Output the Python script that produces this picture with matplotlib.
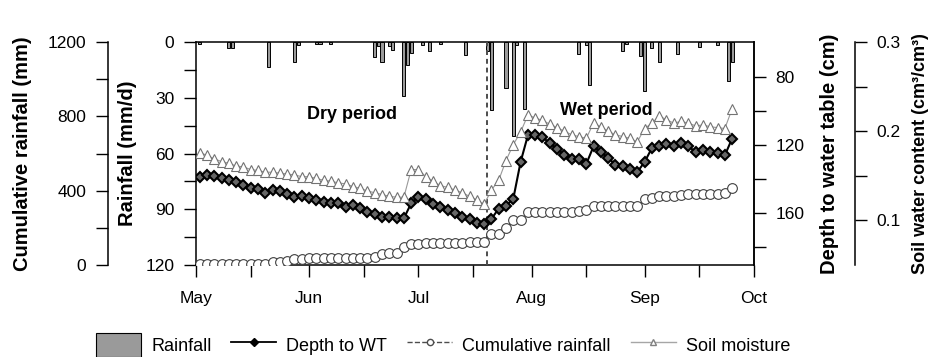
import pandas as pd
import matplotlib
matplotlib.use('Agg')
from matplotlib import pyplot as plt
import matplotlib.dates as mdates
from matplotlib.lines import Line2D
from matplotlib.patches import Patch

plt.rcParams['font.family'] = ['Liberation Sans', 'DejaVu Sans']

# sampling dates, every 2nd day
dates = pd.date_range('2013-05-02', periods=74, freq='2D')

# depth to water table (cm)
depth_wt = [138.6, 137.6, 138.2, 139.6, 140.6, 141.6, 143.5, 145.1, 146.1, 148.4,
            146.5, 146.9, 148.8, 150.8, 149.8, 151.0, 152.4, 153.8, 154.0, 154.3,
            156.3, 155.3, 157.3, 159.2, 160.6, 162.2, 162.5, 163.1, 163.1, 154.3,
            150.4, 152.0, 154.7, 156.3, 158.2, 160.2, 162.2, 163.5, 165.7, 166.7,
            163.5, 157.4, 155.7, 151.6, 130.0, 114.3, 114.3, 115.5, 118.8, 122.4,
            125.7, 128.0, 128.0, 131.2, 120.8, 124.1, 127.6, 131.5, 132.5, 133.9,
            135.9, 130.0, 121.8, 120.8, 119.4, 120.8, 118.8, 120.8, 124.1, 122.8,
            124.1, 124.7, 126.1, 116.2]

# soil water content (cm3/cm3)
soil_moist = [0.176, 0.173, 0.169, 0.166, 0.164, 0.161, 0.160, 0.157, 0.156, 0.154,
              0.154, 0.153, 0.152, 0.151, 0.149, 0.149, 0.147, 0.145, 0.144, 0.142,
              0.141, 0.138, 0.136, 0.133, 0.131, 0.129, 0.127, 0.126, 0.126, 0.157,
              0.157, 0.149, 0.144, 0.139, 0.137, 0.134, 0.131, 0.127, 0.123, 0.118,
              0.134, 0.145, 0.167, 0.185, 0.199, 0.218, 0.215, 0.212, 0.208, 0.204,
              0.200, 0.196, 0.194, 0.192, 0.209, 0.205, 0.200, 0.196, 0.194, 0.192,
              0.188, 0.203, 0.209, 0.217, 0.213, 0.209, 0.211, 0.209, 0.206, 0.207,
              0.205, 0.204, 0.203, 0.225]

# cumulative rainfall (mm)
cum_rain = [3, 3, 3, 3, 3, 3, 3, 3, 3, 4,
            18, 18, 21, 31, 34, 36, 36, 36, 36, 36,
            36, 36, 36, 36, 45, 57, 63, 63, 99, 113,
            113, 117, 117, 120, 120, 120, 120, 124, 124, 126,
            167, 169, 199, 244, 244, 285, 285, 285, 285, 285,
            285, 286, 290, 298, 316, 316, 316, 316, 316, 316,
            316, 355, 360, 369, 369, 369, 378, 382, 382, 382,
            382, 382, 387, 414]

# daily rainfall (mm/d)
rain_dates = ['05-02', '05-10', '05-11', '05-21', '05-28', '05-29', '06-03', '06-04',
              '06-07', '06-19', '06-20', '06-21', '06-23', '06-24', '06-27', '06-28',
              '06-29', '07-02', '07-04', '07-07', '07-14', '07-20', '07-21', '07-25',
              '07-27', '07-28', '07-30', '08-14', '08-16', '08-17', '08-26', '08-27',
              '08-31', '09-01', '09-03', '09-05', '09-10', '09-16', '09-21', '09-24',
              '09-25']
rain_mm = [1, 3, 3, 13.6, 10.9, 1.8, 1, 1, 1, 8.3, 2, 10.9, 2, 4.5, 29.2, 12.6,
           5.9, 1.5, 5, 1, 6.8, 5, 36.4, 25, 50.7, 1.5, 36.2, 6.5, 1.8, 23.2, 5.1, 1,
           7.6, 26.3, 3.3, 11, 6.5, 2.6, 1.7, 20.9, 10.9]

x = mdates.date2num(dates)
xr = mdates.date2num(pd.to_datetime(['2013-' + d for d in rain_dates]))

fig = plt.figure(figsize=(9.3, 3.57), dpi=100)
ax = fig.add_axes([196/930, 92/357, 558/930, 223/357])

# spine offsets are in points: pixels * 72 / 100
PX = 0.72
tick_kw = dict(direction='out', length=8.5, width=1, pad=7, labelsize=12.5, colors='black')

# rainfall bars (main axis)
ax.bar(xr, rain_mm, width=0.85, color='#9a9a9a', edgecolor='black', linewidth=0.7, zorder=2)
ax.set_ylim(120, 0)
ax.set_yticks([0, 30, 60, 90, 120])
ax.set_yticks(range(15, 120, 30), minor=True)
ax.set_xlim(mdates.date2num(pd.Timestamp('2013-05-01')), mdates.date2num(pd.Timestamp('2013-10-01')))
ax.xaxis.set_major_locator(mdates.MonthLocator())
ax.xaxis.set_major_formatter(mdates.DateFormatter('%b'))
ax.xaxis.set_minor_locator(mdates.DayLocator(bymonthday=16))
ax.tick_params(axis='both', which='both', **tick_kw)
ax.tick_params(axis='x', which='major', pad=10.5)
ax.set_ylabel('Rainfall (mm/d)', fontsize=14.5, fontweight='bold')
ax.yaxis.set_label_coords(-0.105, 0.5)
ax.axvline(mdates.date2num(pd.Timestamp('2013-07-19 16:00')), color='0.3', lw=1.4,
           ls=(0, (2.5, 2)), zorder=3)
for s in ax.spines.values():
    s.set_linewidth(1.1)

# cumulative rainfall, extra axis on the far left
ax_c = ax.twinx()
ax_c.yaxis.tick_left()
ax_c.yaxis.set_label_position('left')
ax_c.spines['left'].set_position(('outward', 88 * PX))
ax_c.spines['left'].set_visible(True)
ax_c.spines['left'].set_linewidth(1.1)
for s in ['right', 'top', 'bottom']:
    ax_c.spines[s].set_visible(False)
ax_c.plot(x, cum_rain, color='0.3', lw=0.8, ls='--', marker='o', ms=7,
          mfc='white', mec='0.25', mew=0.8)
ax_c.set_ylim(0, 1200)
ax_c.set_yticks([0, 400, 800, 1200])
ax_c.set_yticks([200, 600, 1000], minor=True)
ax_c.tick_params(axis='y', which='both', **tick_kw)
ax_c.set_ylabel('Cumulative rainfall (mm)', fontsize=14.5, fontweight='bold')
ax_c.yaxis.set_label_coords(-0.294, 0.5)

# depth to water table, right axis
ax_d = ax.twinx()
for s in ['left', 'top', 'bottom']:
    ax_d.spines[s].set_visible(False)
ax_d.spines['right'].set_linewidth(1.1)
ax_d.plot(x, depth_wt, color='black', lw=1.5, marker='D', ms=5.5,
          mfc='0.4', mec='black', mew=1.5)
ax_d.set_ylim(190.6, 59.4)
ax_d.set_yticks([80, 120, 160])
ax_d.set_yticks([100, 140, 180], minor=True)
ax_d.tick_params(axis='y', which='both', **tick_kw)
ax_d.set_ylabel('Depth to water table (cm)', fontsize=14.5, fontweight='bold')
ax_d.yaxis.set_label_coords(1.118, 0.5)

# soil water content, far right axis
ax_s = ax.twinx()
for s in ['left', 'top', 'bottom']:
    ax_s.spines[s].set_visible(False)
ax_s.spines['right'].set_position(('outward', 101 * PX))
ax_s.spines['right'].set_linewidth(1.1)
ax_s.plot(x, soil_moist, color='0.6', lw=0.8, marker='^', ms=6.5,
          mfc='white', mec='0.45', mew=0.8)
ax_s.set_ylim(0.05, 0.3)
ax_s.set_yticks([0.1, 0.2, 0.3])
ax_s.set_yticks([0.15, 0.25], minor=True)
ax_s.tick_params(axis='y', which='both', **tick_kw)
ax_s.set_ylabel('Soil water content (cm³/cm³)', fontsize=13, fontweight='bold')
ax_s.yaxis.set_label_coords(1.283, 0.5)

ax.text(0.2796, 0.677, 'Dry period', transform=ax.transAxes, ha='center', va='center',
        fontsize=13, fontweight='bold')
ax.text(0.7348, 0.695, 'Wet period', transform=ax.transAxes, ha='center', va='center',
        fontsize=13, fontweight='bold')

handles = [Patch(facecolor='#9a9a9a', edgecolor='black', linewidth=0.8),
           Line2D([], [], color='black', lw=1.3, marker='D', ms=4, mfc='black', mec='black'),
           Line2D([], [], color='0.3', lw=1, ls='--', marker='o', ms=4.5, mfc='white', mec='0.3'),
           Line2D([], [], color='0.65', lw=1, marker='^', ms=4.5, mfc='white', mec='0.5')]
labels = ['Rainfall', 'Depth to WT', 'Cumulative rainfall', 'Soil moisture']
fig.legend(handles, labels, loc='center', bbox_to_anchor=(443/930, 1 - 345/357), ncol=4,
           frameon=False, fontsize=13, handlelength=2.5, handleheight=1.6,
           handletextpad=0.55, columnspacing=1.1)

fig.savefig('out.png', dpi=100)
